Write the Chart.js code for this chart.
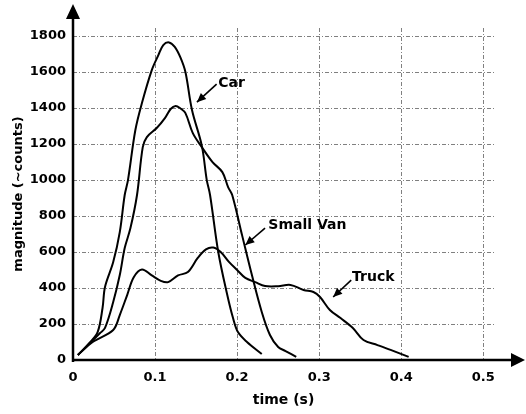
<!DOCTYPE html>
<html>
<head>
<meta charset="utf-8">
<script src="https://cdn.jsdelivr.net/npm/chart.js@4/dist/chart.umd.min.js"></script>
<style>
  html, body { margin: 0; padding: 0; background: #fff; }
  canvas { display: block; }
</style>
</head>
<body>
<canvas id="chart" width="526" height="414"></canvas>
<script>
// data: time (s) vs magnitude (~counts)
const carTime = [0.006, 0.020, 0.030, 0.036, 0.039, 0.049, 0.057, 0.063, 0.067, 0.076, 0.084, 0.096, 0.104, 0.110, 0.117, 0.124, 0.131, 0.137, 0.145, 0.157, 0.163, 0.167, 0.177, 0.188, 0.195, 0.201, 0.212, 0.230];
const carMag  = [28, 95, 155, 289, 406, 544, 711, 917, 1000, 1278, 1428, 1611, 1694, 1750, 1765, 1740, 1680, 1600, 1389, 1190, 1000, 917, 600, 361, 233, 155, 100, 33];

const vanTime = [0.006, 0.020, 0.033, 0.039, 0.049, 0.057, 0.063, 0.070, 0.078, 0.085, 0.090, 0.102, 0.112, 0.119, 0.125, 0.131, 0.137, 0.146, 0.157, 0.170, 0.182, 0.189, 0.194, 0.206, 0.218, 0.230, 0.240, 0.250, 0.259, 0.272];
const vanMag  = [28, 90, 150, 178, 322, 472, 622, 733, 917, 1183, 1239, 1289, 1344, 1395, 1412, 1398, 1372, 1261, 1183, 1100, 1044, 961, 917, 694, 472, 267, 139, 72, 50, 17];

const truckTime = [0.006, 0.024, 0.049, 0.057, 0.066, 0.074, 0.084, 0.096, 0.107, 0.116, 0.128, 0.140, 0.152, 0.162, 0.171, 0.180, 0.190, 0.200, 0.210, 0.222, 0.234, 0.250, 0.265, 0.281, 0.293, 0.301, 0.313, 0.326, 0.341, 0.354, 0.371, 0.387, 0.409];
const truckMag  = [28, 100, 167, 250, 361, 460, 503, 470, 440, 433, 470, 489, 567, 615, 625, 600, 545, 500, 456, 433, 411, 410, 417, 389, 378, 350, 278, 233, 178, 111, 83, 56, 17];

const xTicks = [0, 0.1, 0.2, 0.3, 0.4, 0.5];
const yTicks = [0, 200, 400, 600, 800, 1000, 1200, 1400, 1600, 1800];

// callouts: label, text anchor (t, mag), arrow start, arrow tip
const notes = [
  { label: 'Car',       at: [0.177, 1539], from: [0.175, 1533], to: [0.151, 1433] },
  { label: 'Small Van', at: [0.238, 750],  from: [0.234, 733],  to: [0.210, 639] },
  { label: 'Truck',     at: [0.340, 461],  from: [0.339, 444],  to: [0.317, 350] }
];

const FONT = "'DejaVu Sans', sans-serif";
const WEIGHT = 'bold';

const toPoints = (ts, vs) => ts.map((t, i) => ({ x: t, y: vs[i] }));

const arrowHead = (ctx, x1, y1, x2, y2, len, half) => {
    const a = Math.atan2(y2 - y1, x2 - x1);
    ctx.beginPath();
    ctx.moveTo(x2, y2);
    ctx.lineTo(x2 - len * Math.cos(a) + half * Math.sin(a), y2 - len * Math.sin(a) - half * Math.cos(a));
    ctx.lineTo(x2 - len * Math.cos(a) - half * Math.sin(a), y2 - len * Math.sin(a) + half * Math.cos(a));
    ctx.closePath();
    ctx.fill();
};

// dashed grid drawn before the curves, axes with arrows + callouts after
const decor = {
    id: 'decor',
    beforeDatasetsDraw(chart) {
        const { ctx, chartArea: a, scales: { x, y } } = chart;
        ctx.save();
        ctx.strokeStyle = '#808080';
        ctx.lineWidth = 1;
        ctx.setLineDash([4, 2, 1, 2]);
        xTicks.filter(v => v > 0).forEach(v => {
            const px = Math.round(x.getPixelForValue(v)) + 0.5;
            ctx.beginPath();
            ctx.moveTo(px, a.top);
            ctx.lineTo(px, a.bottom);
            ctx.stroke();
        });
        yTicks.filter(v => v > 0).forEach(v => {
            const py = Math.round(y.getPixelForValue(v)) + 0.5;
            ctx.beginPath();
            ctx.moveTo(a.left, py);
            ctx.lineTo(a.right, py);
            ctx.stroke();
        });
        ctx.restore();
    },
    afterDatasetsDraw(chart) {
        const { ctx, chartArea, scales: { x, y } } = chart;
        const x0 = x.getPixelForValue(0);
        const y0 = y.getPixelForValue(0);
        ctx.save();
        ctx.strokeStyle = '#000';
        ctx.fillStyle = '#000';
        ctx.lineWidth = 2.5;
        ctx.setLineDash([]);

        // y axis
        ctx.beginPath();
        ctx.moveTo(x0, y0 + 2);
        ctx.lineTo(x0, chartArea.top - 12);
        ctx.stroke();
        arrowHead(ctx, x0, y0, x0, chartArea.top - 24, 15, 7);

        // x axis
        ctx.beginPath();
        ctx.moveTo(x0 - 1, y0);
        ctx.lineTo(chart.width - 12, y0);
        ctx.stroke();
        arrowHead(ctx, x0, y0, chart.width - 1, y0, 14, 7);

        // callouts
        ctx.font = WEIGHT + ' 14px ' + FONT;
        ctx.textAlign = 'left';
        ctx.textBaseline = 'middle';
        ctx.lineWidth = 1.6;
        notes.forEach(n => {
            ctx.fillText(n.label, x.getPixelForValue(n.at[0]), y.getPixelForValue(n.at[1]));
            const ax = x.getPixelForValue(n.from[0]), ay = y.getPixelForValue(n.from[1]);
            const bx = x.getPixelForValue(n.to[0]), by = y.getPixelForValue(n.to[1]);
            ctx.beginPath();
            ctx.moveTo(ax, ay);
            ctx.lineTo(bx, by);
            ctx.stroke();
            arrowHead(ctx, ax, ay, bx, by, 9, 4);
        });
        ctx.restore();
    }
};

new Chart(document.getElementById('chart'), {
    type: 'line',
    data: {
        datasets: [
            { label: 'Car', data: toPoints(carTime, carMag) },
            { label: 'Small Van', data: toPoints(vanTime, vanMag) },
            { label: 'Truck', data: toPoints(truckTime, truckMag) }
        ]
    },
    options: {
        responsive: false,
        animation: false,
        layout: { padding: { top: 28, right: 32, left: 0, bottom: 0 } },
        elements: {
            point: { radius: 0 },
            line: { borderColor: '#000', borderWidth: 2, tension: 0.35, fill: false }
        },
        plugins: {
            legend: { display: false },
            tooltip: { enabled: false }
        },
        scales: {
            x: {
                type: 'linear',
                min: 0,
                max: 0.513,
                afterBuildTicks: s => { s.ticks = xTicks.map(v => ({ value: v })); },
                afterFit: s => { s.height = 54; },
                grid: { display: false, drawTicks: false },
                border: { display: false },
                ticks: {
                    padding: 10,
                    color: '#000',
                    font: { family: FONT, size: 13, weight: WEIGHT },
                    maxRotation: 0,
                    callback: v => String(v)
                },
                title: {
                    display: true,
                    text: 'time (s)',
                    color: '#000',
                    font: { family: FONT, size: 14, weight: WEIGHT },
                    padding: { top: 0, bottom: 5 }
                }
            },
            y: {
                min: 0,
                max: 1845,
                afterBuildTicks: s => { s.ticks = yTicks.map(v => ({ value: v })); },
                afterFit: s => { s.width = 73; },
                grid: { display: false, drawTicks: false },
                border: { display: false },
                ticks: {
                    padding: 7,
                    color: '#000',
                    font: { family: FONT, size: 13, weight: WEIGHT },
                    callback: v => String(v)
                },
                title: {
                    display: true,
                    text: 'magnitude (~counts)',
                    color: '#000',
                    font: { family: FONT, size: 13, weight: WEIGHT },
                    padding: { top: 11, bottom: 0 }
                }
            }
        }
    },
    plugins: [decor]
});
</script>
</body>
</html>
